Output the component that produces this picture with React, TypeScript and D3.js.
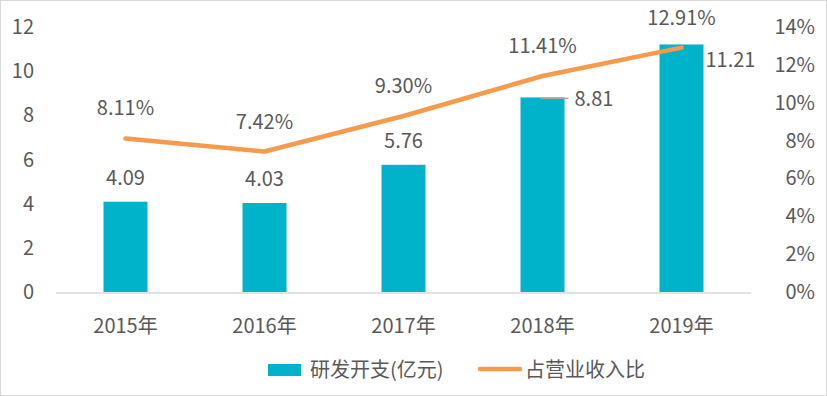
import React, { useEffect, useRef } from 'react';
import * as d3 from 'd3';

const years = ['2015年', '2016年', '2017年', '2018年', '2019年'];
const spending = [4.09, 4.03, 5.76, 8.81, 11.21];
const ratio = [8.11, 7.42, 9.3, 11.41, 12.91];
const leftTicks = [0, 2, 4, 6, 8, 10, 12];
const rightTicks = [0, 2, 4, 6, 8, 10, 12, 14];

export default function App() {
  const svgRef = useRef<SVGSVGElement>(null);

  useEffect(() => {
    if (!svgRef.current) return;
    const width = 827;
    const height = 396;
    const font = '"Noto Sans CJK SC", "Noto Sans", sans-serif';
    const fs = 20;
    const textColor = '#595959';
    const barColor = '#00B2CA';
    const lineColor = '#F79A4B';

    const svg = d3.select(svgRef.current);
    svg.selectAll('*').remove();
    svg.attr('width', width).attr('height', height);

    // chart border
    svg.append('rect')
      .attr('x', 0.5).attr('y', 0.5)
      .attr('width', width - 1).attr('height', height - 1)
      .attr('fill', 'white')
      .attr('stroke', '#D9D9D9');

    const x = d3.scaleBand().domain(years).range([56, 751]);
    const yLeft = d3.scaleLinear().domain([0, 12]).range([292, 27]);
    const yRight = d3.scaleLinear().domain([0, 14]).range([292, 27]);
    const barW = 44;
    const cx = (d: string) => (x(d) as number) + x.bandwidth() / 2;

    // left axis labels
    svg.append('g').selectAll('text')
      .data(leftTicks)
      .join('text')
      .attr('x', 34)
      .attr('y', d => yLeft(d))
      .attr('dy', '0.35em')
      .attr('text-anchor', 'end')
      .attr('font-family', font)
      .attr('font-size', fs)
      .attr('fill', textColor)
      .text(d => d);

    // right axis labels
    svg.append('g').selectAll('text')
      .data(rightTicks)
      .join('text')
      .attr('x', 815)
      .attr('y', d => yRight(d))
      .attr('dy', '0.35em')
      .attr('text-anchor', 'end')
      .attr('font-family', font)
      .attr('font-size', fs)
      .attr('fill', textColor)
      .text(d => d + '%');

    // bars
    svg.append('g').selectAll('rect')
      .data(spending)
      .join('rect')
      .attr('x', (d, i) => cx(years[i]) - barW / 2)
      .attr('y', d => yLeft(d))
      .attr('width', barW)
      .attr('height', d => yLeft(0) - yLeft(d))
      .attr('fill', barColor);

    // baseline
    svg.append('line')
      .attr('x1', 56).attr('x2', 751)
      .attr('y1', yLeft(0) + 1).attr('y2', yLeft(0) + 1)
      .attr('stroke', '#D9D9D9')
      .attr('stroke-width', 1.5);

    // ratio line
    const line = d3.line<number>()
      .x((d, i) => cx(years[i]))
      .y(d => yRight(d));
    svg.append('path')
      .datum(ratio)
      .attr('d', line)
      .attr('fill', 'none')
      .attr('stroke', lineColor)
      .attr('stroke-width', 4.5)
      .attr('stroke-linecap', 'round')
      .attr('stroke-linejoin', 'round');

    // bar labels
    spending.forEach((v, i) => {
      const px = cx(years[i]);
      const py = yLeft(v);
      let lx = px;
      let ly = py - 24;
      let anchor = 'middle';
      if (i === 3) {
        lx = px + 32;
        ly = py + 2;
        anchor = 'start';
        svg.append('line')
          .attr('x1', px - 2).attr('x2', px + 26)
          .attr('y1', py + 1).attr('y2', py + 1)
          .attr('stroke', '#A6A6A6')
          .attr('stroke-width', 1.5);
      } else if (i === 4) {
        lx = px + 24;
        ly = py + 16;
        anchor = 'start';
      }
      svg.append('text')
        .attr('x', lx).attr('y', ly)
        .attr('dy', '0.35em')
        .attr('text-anchor', anchor)
        .attr('font-family', font)
        .attr('font-size', fs)
        .attr('fill', textColor)
        .text(v.toFixed(2));
    });

    // ratio labels
    svg.append('g').selectAll('text')
      .data(ratio)
      .join('text')
      .attr('x', (d, i) => cx(years[i]))
      .attr('y', d => yRight(d) - 30)
      .attr('dy', '0.35em')
      .attr('text-anchor', 'middle')
      .attr('font-family', font)
      .attr('font-size', fs)
      .attr('fill', textColor)
      .text(d => d.toFixed(2) + '%');

    // x labels
    svg.append('g').selectAll('text')
      .data(years)
      .join('text')
      .attr('x', d => cx(d))
      .attr('y', 326)
      .attr('dy', '0.35em')
      .attr('text-anchor', 'middle')
      .attr('font-family', font)
      .attr('font-size', fs)
      .attr('fill', textColor)
      .text(d => d);

    // legend
    const legend = svg.append('g');
    legend.append('rect')
      .attr('x', 268).attr('y', 364)
      .attr('width', 33).attr('height', 12)
      .attr('fill', barColor);
    legend.append('text')
      .attr('x', 310).attr('y', 370)
      .attr('dy', '0.35em')
      .attr('font-family', font)
      .attr('font-size', fs)
      .attr('fill', textColor)
      .text('研发开支(亿元)');
    legend.append('line')
      .attr('x1', 480).attr('x2', 520)
      .attr('y1', 369).attr('y2', 369)
      .attr('stroke', lineColor)
      .attr('stroke-width', 4.5)
      .attr('stroke-linecap', 'round');
    legend.append('text')
      .attr('x', 525).attr('y', 370)
      .attr('dy', '0.35em')
      .attr('font-family', font)
      .attr('font-size', fs)
      .attr('fill', textColor)
      .text('占营业收入比');
  }, []);

  return (
    <div style={{ position: 'absolute', left: 0, top: 0 }}>
      <svg ref={svgRef} style={{ display: 'block' }}></svg>
    </div>
  );
}
